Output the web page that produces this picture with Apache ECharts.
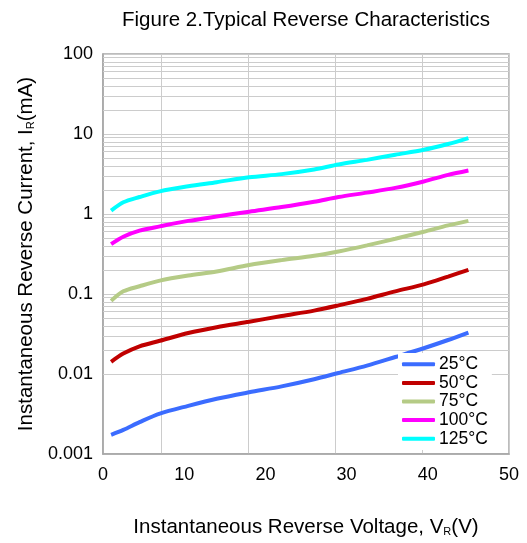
<!DOCTYPE html>
<html>
<head>
<meta charset="utf-8">
<script src="https://cdn.jsdelivr.net/npm/echarts@6/dist/echarts.min.js"></script>
<style>
  html, body { margin: 0; padding: 0; background: #fff; }
  #chart { width: 527px; height: 543px; }
</style>
</head>
<body>
<div id="chart"></div>
<script>
// reverse voltage (V) sample points
const volts = [1, 2.5, 4.5, 7, 10.5, 14, 18, 22, 26, 29, 32.5, 36, 39.5, 42.5, 45];
const temps = ["25°C", "50°C", "75°C", "100°C", "125°C"];
const colors = ["#3b6cff", "#c00000", "#b5cb86", "#ff00ff", "#00ffff"];

// reverse current (mA) per temperature
const i25 = [0.00174, 0.002, 0.0025, 0.0032, 0.004, 0.0049, 0.0059, 0.007, 0.0086, 0.0103, 0.0127, 0.0163, 0.021, 0.0266, 0.033];
const i50 = [0.0142, 0.018, 0.0222, 0.026, 0.0325, 0.0384, 0.045, 0.053, 0.062, 0.072, 0.087, 0.108, 0.132, 0.165, 0.2];
const i75 = [0.082, 0.108, 0.125, 0.147, 0.17, 0.191, 0.23, 0.265, 0.3, 0.34, 0.405, 0.49, 0.6, 0.72, 0.82];
const i100 = [0.42, 0.52, 0.62, 0.7, 0.82, 0.93, 1.07, 1.22, 1.42, 1.63, 1.85, 2.12, 2.55, 3.08, 3.5];
const i125 = [1.1, 1.4, 1.63, 1.92, 2.22, 2.5, 2.88, 3.15, 3.6, 4.15, 4.75, 5.5, 6.35, 7.5, 8.9];
const currents = [i25, i50, i75, i100, i125];

const yTickLabels = ["0.001", "0.01", "0.1", "1", "10", "100"];

// minor log gridlines (2..9 in each decade)
const minorGrid = [];
for (let d = -3; d < 2; d++) {
  for (let m = 2; m <= 9; m++) minorGrid.push(m * Math.pow(10, d));
}

const gridColor = "#cccccc";
const font = "Liberation Sans";

const chart = echarts.init(document.getElementById("chart"));

const series = [
  {
    name: "grid",
    type: "line",
    data: [],
    silent: true,
    z: 1,
    markLine: {
      silent: true,
      z: 1,
      symbol: "none",
      label: { show: false },
      lineStyle: { color: gridColor, width: 1, type: "solid" },
      data: minorGrid.map(v => ({ yAxis: v })),
    },
  },
];
temps.forEach((t, k) => {
  series.push({
    name: t,
    type: "line",
    smooth: 0.3,
    showSymbol: false,
    z: 3,
    lineStyle: { width: 4, color: colors[k] },
    itemStyle: { color: colors[k] },
    data: volts.map((v, j) => [v, currents[k][j]]),
  });
});

const nameRich = {
  a: { fontFamily: font, fontSize: 20.5, color: "#000" },
  s: { fontFamily: font, fontSize: 11, color: "#000", padding: [8, 0, 0, 0] },
};

chart.setOption({
  animation: false,
  title: {
    text: "Figure 2.Typical Reverse Characteristics",
    left: 301,
    textAlign: "center",
    top: 5,
    textStyle: { fontFamily: font, fontSize: 20.5, fontWeight: "normal", color: "#000" },
  },
  grid: {
    left: 103,
    right: 18,
    top: 54,
    bottom: 84,
    show: true,
    borderColor: "#a6a6a6",
    borderWidth: 1.5,
  },
  legend: {
    data: temps,
    orient: "vertical",
    left: 398,
    top: 353,
    backgroundColor: "#fff",
    padding: [2, 4, 2, 4],
    itemGap: 0,
    itemWidth: 33,
    itemHeight: 4,
    icon: "roundRect",
    textStyle: { fontFamily: font, fontSize: 17.5, color: "#000", lineHeight: 18.6, padding: [0, 0, 0, -1] },
  },
  xAxis: [
    {
      type: "value",
      min: 0,
      max: 50,
      interval: 10,
      name: "{a|Instantaneous Reverse Voltage, V}{s|R}{a|(V)}",
      nameLocation: "middle",
      nameGap: 63,
      nameTextStyle: { rich: nameRich },
      axisLine: { lineStyle: { color: "#a6a6a6", width: 1.5 } },
      axisTick: { show: false },
      splitLine: { show: false },
      axisLabel: { fontFamily: font, fontSize: 18, color: "#000", margin: 12 },
    },
    {
      type: "value",
      inverse: true,
      min: 0,
      max: 50,
      interval: 10.7,
      position: "bottom",
      axisLine: { show: false },
      axisTick: { show: false },
      axisLabel: { show: false },
      splitLine: { show: true, lineStyle: { color: gridColor, width: 1 } },
    },
  ],
  yAxis: {
    type: "log",
    logBase: 10,
    min: 0.001,
    max: 100,
    name: "{a|Instantaneous Reverse Current, I}{s|R}{a|(mA)}",
    nameLocation: "middle",
    nameGap: 61,
    nameTextStyle: { rich: nameRich },
    axisLine: { show: true, lineStyle: { color: "#a6a6a6", width: 1.5 } },
    axisTick: { show: false },
    splitLine: { show: true, lineStyle: { color: gridColor, width: 1 } },
    axisLabel: {
      fontFamily: font,
      fontSize: 18,
      color: "#000",
      margin: 10,
      formatter: v => yTickLabels[Math.round(Math.log10(v)) + 3] || "",
    },
  },
  series: series,
});
</script>
</body>
</html>
